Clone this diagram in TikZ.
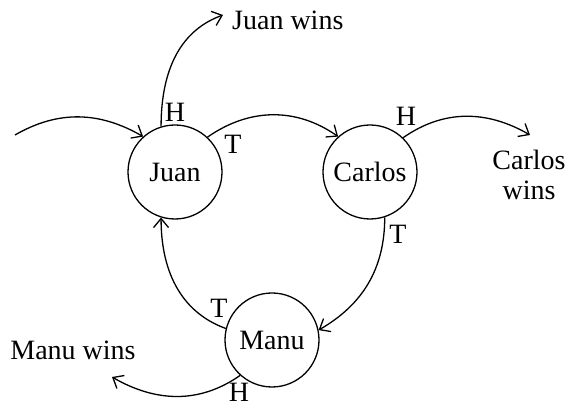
\documentclass[tikz,border=0pt]{standalone}
\usepackage{fontspec}
\setmainfont{Liberation Serif}
\usetikzlibrary{arrows.meta}
\begin{document}
\begin{tikzpicture}[x=1pt,y=1pt,
  state/.style={circle,draw,line width=1.3pt,minimum size=94pt,inner sep=0pt},
  lbl/.style={inner sep=1pt},
  edge/.style={line width=1.3pt,-{Straight Barb[length=9pt,width=15pt,line width=1.3pt]}},
  every node/.style={font=\fontsize{28}{30}\selectfont}]
\useasboundingbox (0,0) rectangle (567,406);
\node[state] (juan) at (175,234) {Juan};
\node[state] (carlos) at (370,234) {Carlos};
\node[state] (manu) at (272,66) {Manu};
\node[lbl,anchor=west] (jw) at (231,386) {Juan wins};
\node[lbl,align=center] (cw) at (529,231) {Carlos\\wins};
\node[lbl] (mw) at (73,56) {Manu wins};
\coordinate (s) at (15,271);
\coordinate (jwtip) at (223,391);
\coordinate (cwtip) at (530,271);
\coordinate (mwtip) at (112,29);
\draw[edge] (s) to[out=30,in=150] (juan.132);
\draw[edge] (juan.107) to[out=90,in=200] (jwtip);
\draw[edge] (juan.47) to[out=35,in=145] (carlos.132);
\draw[edge] (carlos.46) to[out=35,in=150] (cwtip);
\draw[edge] (carlos.288) to[out=270,in=30] (manu.12);
\draw[edge] (manu.166) to[out=160,in=270] (juan.253);
\draw[edge] (manu.228) to[out=215,in=-30] (mwtip);
\node[lbl] (h1) at (175,294) {H};
\node[lbl] (t1) at (233,262) {T};
\node[lbl] (h2) at (406,290) {H};
\node[lbl] (t2) at (398,172) {T};
\node[lbl] (t3) at (219,98) {T};
\node[lbl,inner sep=0pt] (h3) at (239,14) {H};
\end{tikzpicture}
\end{document}
